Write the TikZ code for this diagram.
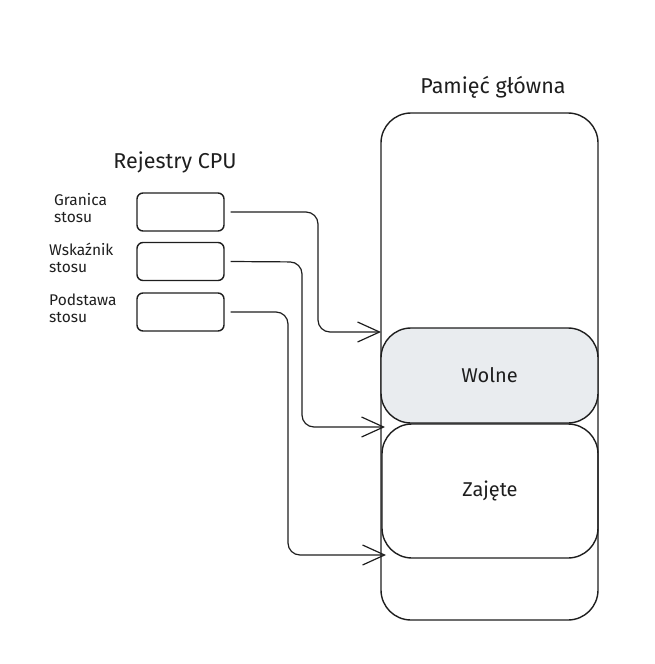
\documentclass[tikz,border=0pt]{standalone}
\usepackage{fontspec}
\setmainfont{Fira Sans}
\usetikzlibrary{arrows.meta}
\definecolor{ink}{HTML}{1E1E1E}
\definecolor{freefill}{HTML}{E9ECEF}
\begin{document}
\begin{tikzpicture}[x=1pt,y=-1pt,
  membox/.style={draw=ink, line width=1.4pt, rounded corners=30pt, inner sep=0pt, font=\fontsize{20}{24}\selectfont, text=ink},
  regbox/.style={draw=ink, line width=1.4pt, rounded corners=6pt, inner sep=0pt, minimum width=87pt, minimum height=38pt},
  reglabel/.style={anchor=west, align=left, inner sep=0pt, text=ink, font=\fontsize{15.5}{17}\selectfont},
  title/.style={text=ink, inner sep=0pt, font=\fontsize{21.5}{24}\selectfont},
  conn/.style={draw=ink, line width=1.2pt, rounded corners=12pt, -{Straight Barb[length=22pt,width=20pt,line width=1.2pt]}}
]
\useasboundingbox (0,0) rectangle (654,664);

% titles
\node[title] (ttlmem) at (493,87) {Pamięć główna};
\node[title] (ttlcpu) at (175,162) {Rejestry CPU};

% main memory
\node[membox, minimum width=217pt, minimum height=507pt] (mem) at (489.5,366.5) {};
\node[membox, fill=freefill, minimum width=217pt, minimum height=95pt] (free) at (489.5,375.5) {Wolne};
\node[membox, minimum width=216pt, minimum height=134pt] (used) at (490,491) {Zajęte};

% registers
\node[regbox] (r1) at (180.5,212) {};
\node[regbox] (r2) at (180.5,261.5) {};
\node[regbox] (r3) at (180.5,312) {};

\node[reglabel] (l1) at (54,208) {Granica\\stosu};
\node[reglabel] (l2) at (49,258) {Wskaźnik\\stosu};
\node[reglabel] (l3) at (49,308) {Podstawa\\stosu};

% arrow end points
\coordinate (t1) at (381,332);
\coordinate (t2) at (385,427);
\coordinate (t3) at (386,555);

\draw[conn] ([xshift=6pt]r1.east) -- (318,212) |- (t1);
\draw[conn] ([xshift=6pt]r2.east) -- (302,262) |- (t2);
\draw[conn] ([xshift=6pt]r3.east) -- (288,312) |- (t3);
\end{tikzpicture}
\end{document}
